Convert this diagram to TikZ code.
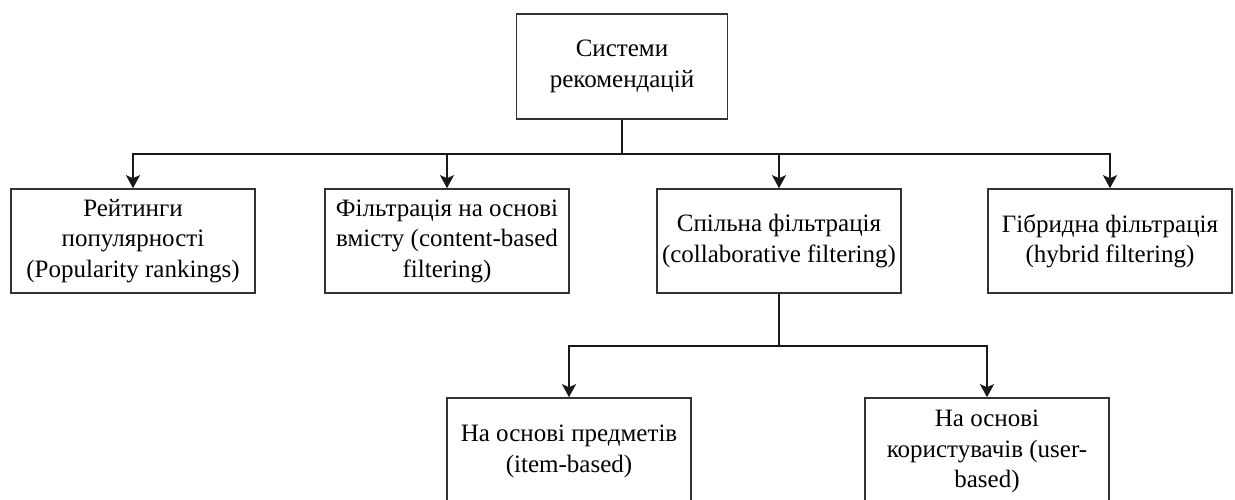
\documentclass[tikz,border=0pt]{standalone}
\usepackage{fontspec}
\setmainfont{Liberation Serif}
\usetikzlibrary{arrows.meta}
\begin{document}
\begin{tikzpicture}[x=1pt,y=-1pt,
  box/.style={draw=black!80, line width=1.6pt, fill=white, inner sep=0pt,
    minimum width=244pt, minimum height=104pt, align=center,
    font=\fontsize{25}{30.5}\selectfont},
  arr/.style={line width=1.8pt, draw=black!90, -{Stealth[length=13pt,width=14pt,inset=3pt]}}]
\useasboundingbox (0,0) rectangle (1235,500);
\clip (0,0) rectangle (1235,500);
\node[box, minimum width=211pt, minimum height=105pt] (top) at (622,66.5) {Системи\\рекомендацій};
\node[box] (b1) at (133,241) {Рейтинги\\популярності\\(Popularity rankings)};
\node[box] (b2) at (447,241) {Фільтрація на основі\\вмісту (content-based\\filtering)};
\node[box] (b3) at (779,241) {Спільна фільтрація\\(collaborative filtering)};
\node[box] (b4) at (1110,241) {Гібридна фільтрація\\(hybrid filtering)};
\node[box, minimum height=107pt] (b5) at (569,451.5) {На основі предметів\\(item-based)};
\node[box, minimum height=107pt] (b6) at (987,451.5) {На основі\\користувачів (user-\\based)};
\coordinate (j1) at (622,154);
\coordinate (j2) at (779,346);
\draw[arr] (top.south) -- (j1) -| (b1.north);
\draw[arr] (top.south) -- (j1) -| (b2.north);
\draw[arr] (top.south) -- (j1) -| (b3.north);
\draw[arr] (top.south) -- (j1) -| (b4.north);
\draw[arr] (b3.south) -- (j2) -| (b5.north);
\draw[arr] (b3.south) -- (j2) -| (b6.north);
\end{tikzpicture}
\end{document}
